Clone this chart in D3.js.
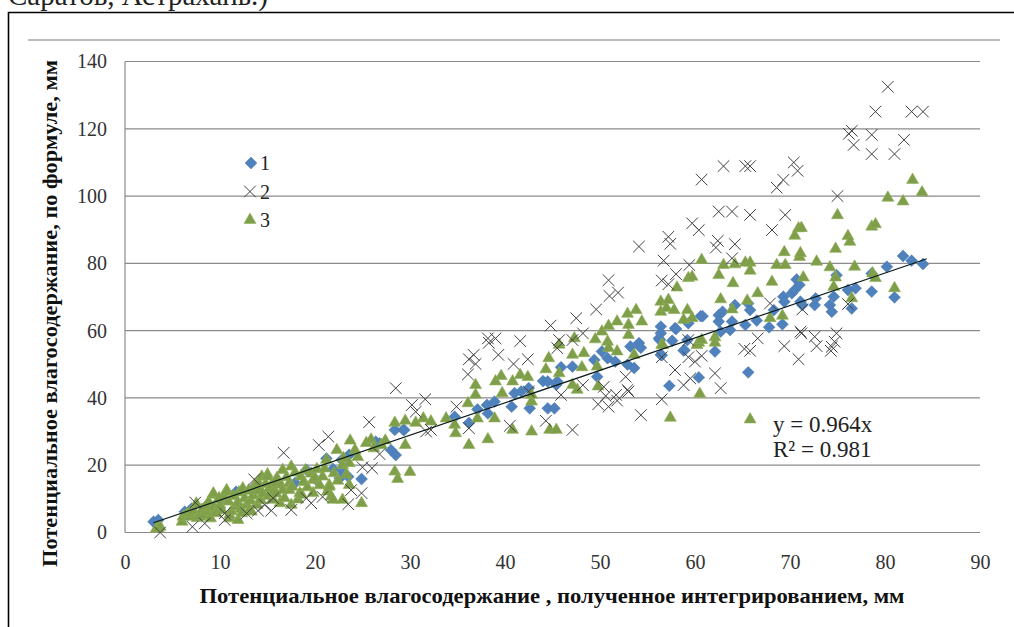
<!DOCTYPE html>
<html>
<head>
<meta charset="utf-8">
<script src="https://cdn.jsdelivr.net/npm/d3@7"></script>
<style>
    html, body { margin: 0; padding: 0; background: white; overflow: hidden; }
    svg { display: block; }
    text { font-family: "Liberation Serif", serif; }
</style>
</head>
<body>
<div id="root"></div>
<script>
// values: [x, y] in mm
const series1 = [
    [3,3.2],[3.5,3.7],[6.3,6.2],[7,7.1],[8.6,8],[10,9.6],[11.7,12.1],[12.4,12.6],[13.5,13.2],[17.9,14.7],
    [19.1,18.6],[20.1,15.7],[21.2,22],[21.9,18.9],[22.6,16.1],[22.8,21.6],[22.9,18.3],[23.5,16.6],[23.6,23.1],[24.9,15.9],
    [26.4,27],[26.8,26.5],[28,24.5],[28.5,23],[28.4,30.5],[29.3,30.5],[29.4,30.5],[34.7,34.4],[36.2,32.6],[37.1,36.6],
    [38.1,37.9],[38.2,35.4],[38.9,38.9],[40.7,37.4],[41,41.4],[41.7,41.9],[42.5,42.9],[42.6,36.9],[44.5,36.9],[45.2,36.9],
    [44,45],[44.5,44.9],[45.4,43.9],[45.5,44.9],[45.9,49.1],[47.1,49.3],[49.4,51.3],[49.7,46.3],[50.2,53.8],[50.8,51.8],
    [51.6,50.8],[52.9,49.9],[53.2,55.3],[53.6,48.9],[54.1,56.3],[54.3,54.9],[56.2,57.7],[56.3,57.2],[56.4,61.2],[56.4,59.2],
    [56.4,52.8],[56.5,52.7],[57.3,43.6],[57.6,57],[57.9,60.7],[58,60.5],[58.8,54.1],[58.9,54.2],[59.2,57.2],[59.3,62.2],
    [60.4,46.1],[60.6,64.3],[60.8,64.3],[62.1,53.8],[62.5,64.6],[62.5,62.7],[62.7,59.7],[62.9,65.6],[63.7,60.2],[63.9,62.7],
    [64.2,67.6],[65.3,61.7],[65.6,68.1],[65.6,47.6],[65.8,66.1],[66.5,63],[67.8,61],[68.3,66.1],[69.2,61.9],[69.3,70.1],
    [69.4,68.6],[70.2,71.1],[70.5,72.1],[70.7,75.2],[71,73.6],[71.1,68.6],[71.3,67.6],[72.6,67.6],[72.7,69.6],[74.2,67.6],
    [74.4,65.6],[74.6,70.1],[74.9,76.5],[76.1,72.1],[76.5,66.6],[76.9,72.6],[78.6,77],[78.6,71.6],[80.2,79],[81,69.9],
    [81.9,82.2],[82.8,80.8],[84,79.8]
]
const series2 = [
    [3.7,0],[7.1,1.7],[7.4,8.9],[8.4,2.7],[10.5,3.7],[10.5,5.7],[12.8,5.7],[13.6,15.8],[14,6.5],[14.7,8.2],
    [15.4,6.5],[15.6,10.2],[16.7,23.7],[17.5,6.7],[19.1,10.2],[19.6,8.7],[20.4,26],[20.8,10.6],[21.4,28.5],[23.5,8.4],
    [23.8,12.6],[24.9,11.7],[25,19.4],[25.7,32.8],[26,19.1],[26.8,23.3],[28.5,42.9],[30.2,37.9],[30.6,35.9],[31.6,39.6],
    [31.7,30],[32.2,30.5],[34.9,37.4],[36.1,47],[36.2,51.5],[36.2,31],[36.7,52.8],[36.9,50.1],[38.2,57.7],[38.3,56.4],
    [39,57.7],[39.3,52.8],[40.5,31.7],[40.9,50.1],[41.6,56.9],[42.4,51.5],[42.5,41.9],[44.3,33.2],[44.8,61.5],[45.5,54.8],
    [45.7,57.2],[45.9,40.9],[47.1,57.2],[47.1,30.5],[47.5,63.7],[48.2,59.2],[48.2,43.8],[49.6,66.3],[49.8,38.1],[50.4,43.3],
    [50.6,40.6],[50.9,75],[50.9,37.4],[51,70.3],[51.7,40.9],[51.8,39.2],[51.9,71.3],[52.7,46.3],[52.9,42.4],[53,41.9],
    [54.1,85],[54.3,34.9],[56.5,74.9],[56.5,52.1],[56.5,39.6],[56.7,80.8],[57.2,87.9],[57.2,73.8],[57.4,85.8],
    [57.9,48.3],[58,76.8],[58.8,43.8],[59.3,57.2],[59.3,52.1],[59.4,79.5],[59.5,45.8],[59.7,91.9],[60,50.8],[60.4,89.9],
    [60.7,104.9],[60.7,52.5],[62.1,47.3],[62.2,84.7],[62.4,86.7],[62.5,95.4],[62.7,42.9],[63,108.9],[63.9,95.4],[63.9,81.5],
    [64.2,85.7],[65.2,54.6],[65.3,108.9],[65.8,108.9],[65.8,94.4],[65.8,54],[66.6,57.7],[67.9,68.1],[68.1,89.9],[68.6,102.5],
    [69.3,104.8],[69.4,55.4],[69.5,94.4],[70.4,110],[70.8,107.5],[70.9,51.5],[71.1,59.7],[71.2,59.2],[71.3,66.3],[72.6,58.2],
    [72.8,55.4],[74.3,54],[74.4,55.2],[74.7,56.7],[74.9,59.2],[75,100],[76.1,67.9],[76.2,118.5],[76.5,119.4],[76.7,115.2],
    [78.6,118.2],[78.6,112.5],[79,125.1],[80.3,132.5],[81,112.5],[82,116.7],[82.8,125.1],[84,125.1]
]
const series3 = [
    [3.3,1.2],[3.5,1.2],[3.7,1.7],[6,3.2],[6.1,4.7],[6.5,5.5],[6.8,4.7],[6.8,5.7],[7.2,6.3],[7.5,8.6],[7.6,4.3],[7.9,4.7],
    [8.1,6.8],[8.3,5.2],[8.6,7.7],[8.8,9.1],[8.9,6.2],[9,4.2],[9.3,11.2],[9.3,11.6],[9.4,7.4],[9.6,5.7],[9.9,10.2],[10,8.2],
    [10.2,6.6],[10.4,10.9],[10.7,12.6],[10.7,12.2],[10.9,9.2],[11,4.2],[11,5.2],[11.2,6.3],[11.4,10.8],[11.6,7.7],[11.9,3.7],[11.9,8.9],
    [12,11.9],[12.2,7],[12.3,5.7],[12.4,13.1],[12.6,10.2],[12.8,8.2],[13,12.4],[13.1,6.7],[13.2,9.5],[13.3,6.2],[13.5,11],[13.7,14.1],
    [13.8,13.6],[13.9,8.2],[14,15],[14.1,12.4],[14.3,9.6],[14.4,16.6],[14.5,11.6],[14.8,14.4],[15,17.3],[15,16.6],[15.1,10.8],[15.2,13.1],
    [15.4,14],[15.6,9.7],[15.7,12.5],[15.9,14.6],[15.9,11.6],[16,16.2],[16.3,8.7],[16.4,14.2],[16.6,18.6],[16.6,12.6],[16.8,10.2],[17,16.4],
    [17.3,14.6],[17.3,12.6],[17.5,19.6],[17.5,8.2],[17.6,13.6],[17.9,17.8],[18.2,9.8],[18.4,11.7],[18.5,16.6],[18.6,11.2],[18.8,15],[19,18.5],
    [19.2,13.4],[19.6,17.5],[19.8,15.6],[19.8,11.7],[20,16.1],[20.2,18.8],[20.5,14],[20.8,16.6],[21,19],[21.2,21.6],[21.3,12.2],[21.5,14.1],
    [21.5,13.6],[21.7,10.7],[21.9,9.7],[22,17.6],[22.3,24.5],[22.4,15.4],[22.9,20],[22.9,9.7],[23,22.1],[23.3,17.2],[23.6,20.6],[23.6,14.1],
    [23.7,27.3],[24.2,24.5],[24.5,22.4],[24.9,8.7],[25.4,26.6],[25.9,27.6],[26.2,25],[27,26],[27.4,27.3],[28.4,32.6],[28.4,18.1],[28.7,15.9],
    [29.5,33.2],[29.5,26],[30,18],[30.6,32.6],[31.4,33.9],[32.2,33],[33.8,33.9],[34.7,32],[34.8,29.5],[36.1,38.4],[36.2,26],[36.9,40.9],
    [36.9,43.8],[37.1,33.9],[38.2,27.7],[38.9,33.9],[39,44.9],[39.6,46.5],[39.7,41.4],[40.8,44.9],[40.8,30.5],[41.6,46.8],
    [42.4,46.2],[42.8,38.9],[42.8,40.9],[42.8,30],[44.3,48.5],[44.6,51.8],[44.7,30.5],[45.4,30.5],[45.7,55.8],[45.7,47.3],
    [47.1,52.8],[47.1,43.8],[47.3,57.7],[47.6,42.4],[48.1,49.1],[48.3,53.3],[49.5,57.4],[49.7,49.3],[49.8,43.4],[50.2,59.7],
    [50.8,56.7],[50.9,61.4],[50.9,54.8],[51.8,62.7],[51.8,53.8],[52.9,65],[53,61.7],[53,58.7],[53.6,52.8],[53.8,66.1],
    [54.4,62.7],[56.4,68.6],[56.4,65.6],[56.5,55.8],[56.6,55.7],[57,66.7],[57.2,69.1],[57.4,34.1],[57.8,66.1],[58.1,72.8],
    [58.8,63.2],[59.2,66.1],[59.3,75.6],[59.7,76],[59.7,63.7],[60.2,55.7],[60.4,56.4],[60.5,41.2],[60.7,81],[60.7,57.2],
    [62.1,58],[62.1,56.4],[62.5,76.5],[62.7,69.3],[63,79.5],[63.9,66.3],[64,74.1],[64.2,79.7],[65.3,80.2],[65.5,68.9],
    [65.8,80.2],[65.8,77.8],[65.8,33.6],[66.6,71.1],[67.9,63.7],[68.1,74.5],[68.6,79.5],[69.2,64.4],[69.4,83.3],[69.5,79.5],
    [70.5,88.2],[70.9,90.4],[71,81.9],[71.1,83],[71.2,90.5],[71.4,75.8],[72.8,80.5],[74.2,78.8],[74.6,73],[74.8,84.3],
    [74.8,75.8],[75,94.3],[76.1,88.1],[76.3,86.4],[76.5,69.6],[76.8,79],[78.6,90.9],[78.7,77],[79,91.6],[79,75.6],
    [80.3,99.5],[81,72.6],[81.9,98.4],[82.9,104.8],[83.9,101.1]
]
const xTicks = [0,10,20,30,40,50,60,70,80,90]
const yTicks = [0,20,40,60,80,100,120,140]
const trendSlope = 0.964
const trendX = [3, 84.4]
const legendLabels = ["1","2","3"]

const w = 1014, h = 627

const xScale = d3.scaleLinear().domain([0, 90]).range([125, 980])
const yScale = d3.scaleLinear().domain([0, 140]).range([532.5, 61.5])

const svg = d3.select("#root").append("svg")
    .attr("width", w)
    .attr("height", h)

svg.append("rect").attr("width", w).attr("height", h).attr("fill", "white")

// caption cut off by the crop
svg.append("text")
    .attr("x", 8).attr("y", 5)
    .attr("font-size", 29)
    .attr("fill", "#222")
    .text("Саратов, Астрахань.)")

// frame, open at right and bottom
svg.append("path")
    .attr("d", d3.line()([[8.5, h], [8.5, 12.5], [w, 12.5]]))
    .attr("fill", "none")
    .attr("stroke", "black")
    .attr("stroke-width", 1.6)

svg.append("line")
    .attr("x1", 28).attr("x2", 1000)
    .attr("y1", 40).attr("y2", 40)
    .attr("stroke", "#a6a6a6")
    .attr("stroke-width", 1.3)

// grid
svg.selectAll("line.grid").data(yTicks).enter().append("line")
    .attr("class", "grid")
    .attr("x1", xScale(0)).attr("x2", xScale(90))
    .attr("y1", d => yScale(d)).attr("y2", d => yScale(d))
    .attr("stroke", "#8a8a8a")
    .attr("stroke-width", 1.2)

svg.append("line")
    .attr("x1", xScale(0)).attr("x2", xScale(0))
    .attr("y1", yScale(0)).attr("y2", yScale(140))
    .attr("stroke", "#8a8a8a")
    .attr("stroke-width", 1.2)

// axes, only their labels are visible
const xAxis = svg.append("g")
    .attr("transform", "translate(0," + yScale(0) + ")")
    .call(d3.axisBottom(xScale).tickValues(xTicks).tickSize(0).tickPadding(22))
const yAxis = svg.append("g")
    .attr("transform", "translate(" + xScale(0) + ",0)")
    .call(d3.axisLeft(yScale).tickValues(yTicks).tickSize(0).tickPadding(18))
xAxis.select(".domain").remove()
yAxis.select(".domain").remove()
svg.selectAll(".tick text")
    .attr("font-family", '"Liberation Serif", serif')
    .attr("font-size", 20)
    .attr("fill", "#333")

svg.append("text")
    .attr("transform", "translate(57,313.5) rotate(-90)")
    .attr("text-anchor", "middle")
    .attr("font-size", 20)
    .attr("font-weight", "bold")
    .attr("fill", "#111")
    .attr("textLength", 507)
    .attr("lengthAdjust", "spacingAndGlyphs")
    .text("Потенциальное влагосодержание, по формуле, мм")

svg.append("text")
    .attr("x", 552).attr("y", 603)
    .attr("text-anchor", "middle")
    .attr("font-size", 22)
    .attr("font-weight", "bold")
    .attr("fill", "#111")
    .attr("textLength", 705)
    .attr("lengthAdjust", "spacingAndGlyphs")
    .text("Потенциальное влагосодержание , полученное интегрированием, мм")

const diamond = d3.symbol().type(d3.symbolDiamond2).size(90)
const triangle = d3.symbol().type(d3.symbolTriangle).size(62)
const crossLine = d3.line()

function crossPath(r) {
    return crossLine([[-r,-r],[r,r]]) + crossLine([[-r,r],[r,-r]])
}
function drawDiamonds(sel) {
    sel.attr("d", diamond).attr("fill", "#4f81bd").attr("stroke", "#4a7ab0").attr("stroke-width", 0.5)
}
function drawCrosses(sel) {
    sel.attr("d", crossPath(5.8)).attr("fill", "none").attr("stroke", "#404040").attr("stroke-width", 1)
}
function drawTriangles(sel) {
    sel.attr("d", triangle).attr("fill", "#7f9e4a").attr("stroke", "#8fae55").attr("stroke-width", 0.6)
}
function place(d) {
    return "translate(" + [xScale(d[0]), yScale(d[1])] + ")"
}

svg.selectAll("path.s1").data(series1).enter().append("path")
    .attr("class", "s1")
    .attr("transform", place)
    .call(drawDiamonds)

svg.selectAll("path.s3").data(series3).enter().append("path")
    .attr("class", "s3")
    .attr("transform", place)
    .call(drawTriangles)

svg.selectAll("path.s2").data(series2).enter().append("path")
    .attr("class", "s2")
    .attr("transform", place)
    .call(drawCrosses)

// trend line
svg.append("line")
    .attr("x1", xScale(trendX[0])).attr("y1", yScale(trendX[0] * trendSlope))
    .attr("x2", xScale(trendX[1])).attr("y2", yScale(trendX[1] * trendSlope))
    .attr("stroke", "#0b1a1a")
    .attr("stroke-width", 1.2)

// legend
const legendY = d3.scalePoint().domain(legendLabels).range([163, 220])
svg.append("path").attr("transform", "translate(251," + legendY("1") + ")").call(drawDiamonds)
svg.append("path").attr("transform", "translate(250," + legendY("2") + ")").call(drawCrosses)
svg.append("path").attr("transform", "translate(250," + legendY("3") + ")").call(drawTriangles)
svg.selectAll("text.legend").data(legendLabels).enter().append("text")
    .attr("class", "legend")
    .attr("x", 260)
    .attr("y", d => legendY(d) + 7)
    .attr("font-size", 20)
    .attr("fill", "#222")
    .text(d => d)

// equation
svg.append("text").attr("x", 773).attr("y", 432).attr("font-size", 23).attr("fill", "#222").text("y = 0.964x")
svg.append("text").attr("x", 773).attr("y", 457).attr("font-size", 23).attr("fill", "#222").text("R² = 0.981")
</script>
</body>
</html>
